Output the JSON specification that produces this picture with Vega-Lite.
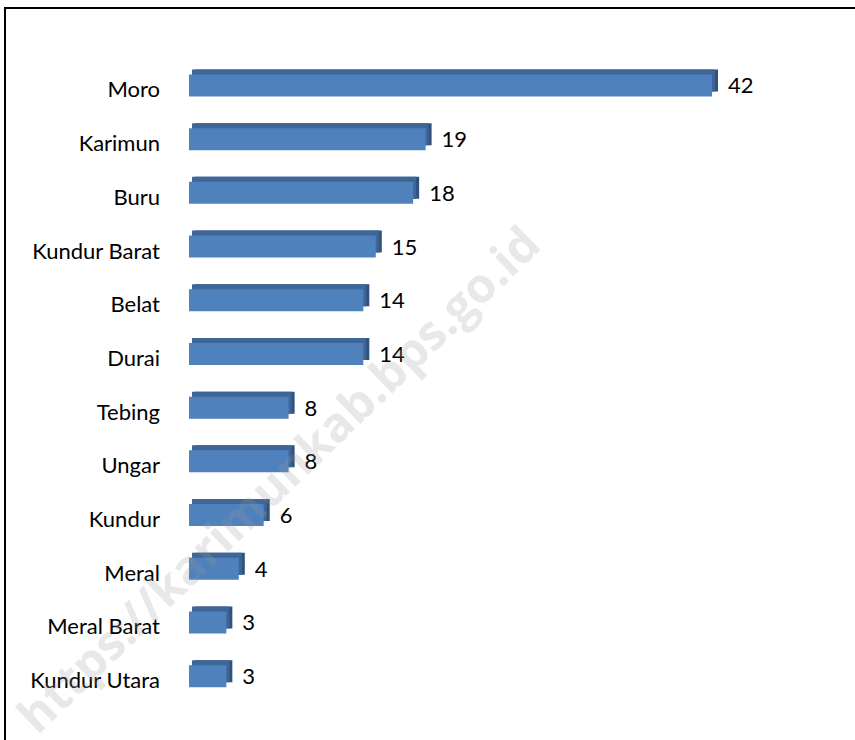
{
  "$schema": "https://vega.github.io/schema/vega-lite/v6.json",
  "autosize": {"type": "none"},
  "padding": {"left": 5, "top": 8, "right": 0, "bottom": 0},
  "width": 900,
  "height": 780,
  "background": "white",
  "config": {"view": {"stroke": "black", "strokeWidth": 2}},
  "data": {
    "values": [
      {"kecamatan": "Moro", "jumlah": 42},
      {"kecamatan": "Karimun", "jumlah": 19},
      {"kecamatan": "Buru", "jumlah": 18},
      {"kecamatan": "Kundur Barat", "jumlah": 15},
      {"kecamatan": "Belat", "jumlah": 14},
      {"kecamatan": "Durai", "jumlah": 14},
      {"kecamatan": "Tebing", "jumlah": 8},
      {"kecamatan": "Ungar", "jumlah": 8},
      {"kecamatan": "Kundur", "jumlah": 6},
      {"kecamatan": "Meral", "jumlah": 4},
      {"kecamatan": "Meral Barat", "jumlah": 3},
      {"kecamatan": "Kundur Utara", "jumlah": 3}
    ]
  },
  "encoding": {
    "y": {
      "field": "kecamatan",
      "type": "nominal",
      "sort": null,
      "axis": null,
      "scale": {"range": [50.6, 695], "paddingInner": 0.59, "paddingOuter": 0.295}
    }
  },
  "layer": [
    {
      "mark": {"type": "bar", "color": "#30527f", "xOffset": 6, "x2Offset": 6, "yOffset": -5, "y2Offset": -5},
      "encoding": {
        "x": {"field": "jumlah", "type": "quantitative", "axis": null, "scale": {"domain": [0, 42], "range": [184, 707], "nice": false, "zero": true}},
        "x2": {"datum": 0}
      }
    },
    {
      "mark": {"type": "bar", "color": "#3e6697", "xOffset": 3, "x2Offset": 3, "yOffset": -5, "y2Offset": -22},
      "encoding": {
        "x": {"field": "jumlah", "type": "quantitative"},
        "x2": {"datum": 0}
      }
    },
    {
      "mark": {"type": "bar", "color": "#4f81bd"},
      "encoding": {
        "x": {"field": "jumlah", "type": "quantitative"},
        "x2": {"datum": 0}
      }
    },
    {
      "mark": {"type": "text", "align": "left", "baseline": "middle", "dx": 16, "dy": 1, "font": "Lato", "fontSize": 22, "color": "black"},
      "encoding": {
        "x": {"field": "jumlah", "type": "quantitative"},
        "text": {"field": "jumlah", "type": "quantitative"}
      }
    },
    {
      "mark": {"type": "text", "align": "right", "baseline": "middle", "dx": -29, "dy": 5, "font": "Lato", "fontSize": 22, "color": "black"},
      "encoding": {
        "x": {"datum": 0},
        "text": {"field": "kecamatan", "type": "nominal"}
      }
    },
    {
      "data": {"values": [{"wm": "https://karimunkab.bps.go.id", "kx": 5.8, "ky": "Ungar"}]},
      "mark": {"type": "text", "align": "center", "baseline": "middle", "angle": 316, "dy": 28, "font": "Open Sans", "fontWeight": "bold", "fontSize": 48, "color": "#999999", "opacity": 0.22},
      "encoding": {
        "x": {"field": "kx", "type": "quantitative"},
        "y": {"field": "ky", "type": "nominal"},
        "text": {"field": "wm", "type": "nominal"}
      }
    }
  ]
}
